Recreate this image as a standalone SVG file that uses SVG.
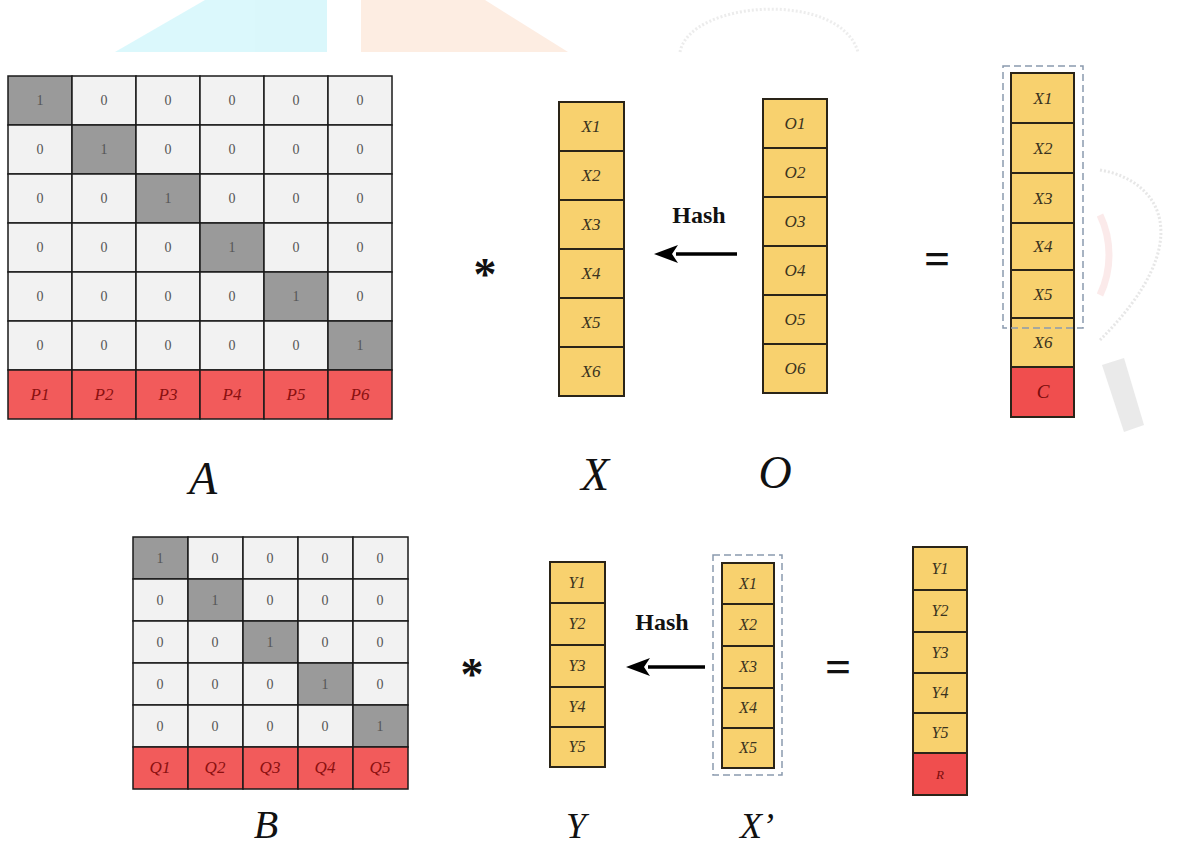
<svg xmlns="http://www.w3.org/2000/svg" width="1190" height="848" viewBox="0 0 1190 848">
<style>
.bg{fill:#ffffff}
.cl{fill:#f2f2f2;stroke:#1a1a1a;stroke-width:1.5}
.cd{fill:#9a9a9a;stroke:#1a1a1a;stroke-width:1.5}
.cr{fill:#f25b5b;stroke:#1a1a1a;stroke-width:1.5}
.cy{fill:#f8d16e;stroke:#2a2418;stroke-width:2}
.cyr{fill:#f04e4e;stroke:#2a2418;stroke-width:2}
.n{font-family:"Liberation Serif","Times New Roman",serif;font-size:14px;fill:#555;text-anchor:middle}
.p{font-family:"Liberation Serif","Times New Roman",serif;font-style:italic;font-size:17px;fill:#8a1010;text-anchor:middle}
.v{font-family:"Liberation Serif","Times New Roman",serif;font-style:italic;font-size:17px;fill:#3a3320;text-anchor:middle}
.vs{font-family:"Liberation Serif","Times New Roman",serif;font-style:italic;font-size:16px;fill:#3a3320;text-anchor:middle}
.big{font-family:"Liberation Serif","Times New Roman",serif;font-style:italic;font-size:46px;fill:#111;text-anchor:middle}
.hash{font-family:"Liberation Serif","Times New Roman",serif;font-weight:bold;font-size:24px;fill:#111;text-anchor:middle}
.op{font-family:"Liberation Serif","Times New Roman",serif;font-weight:bold;font-size:46px;fill:#111;text-anchor:middle}
.dash{fill:none;stroke:#8a9aae;stroke-width:1.5;stroke-dasharray:7 4}
.conn{stroke:#000;stroke-width:3.5;fill:none}
</style>
<defs>
<marker id="ah" markerUnits="userSpaceOnUse" markerWidth="24" markerHeight="18" refX="2" refY="9" orient="auto">
<path d="M0,9 L24,0 L18,9 L24,18 Z" fill="#000" transform="rotate(180 12 9)"/>
</marker>
</defs>
<rect class="bg" x="0" y="0" width="1190" height="848"/>
<g id="watermark" opacity="0.8">
<polygon points="115,52 205,0 327,0 327,52" fill="#d2f6fb"/>
<polygon points="361,0 485,0 568,52 361,52" fill="#fde9dc"/>
<path d="M680,52 C690,0 840,-10 858,52" fill="none" stroke="#e8e8e8" stroke-width="3" stroke-dasharray="2 2"/>
<path d="M1100,170 C1160,180 1200,240 1100,340" fill="none" stroke="#e2e2e2" stroke-width="3" stroke-dasharray="2 2"/>
<path d="M1100,215 C1112,240 1112,270 1100,295" fill="none" stroke="#fbe6e6" stroke-width="7"/>
<polygon points="1102,365 1124,358 1144,425 1124,432" fill="#e6e6e6"/>
</g>
<g id="matrixA">
<rect class="cd" x="8" y="76" width="64" height="49"/><rect class="cl" x="72" y="76" width="64" height="49"/><rect class="cl" x="136" y="76" width="64" height="49"/><rect class="cl" x="200" y="76" width="64" height="49"/><rect class="cl" x="264" y="76" width="64" height="49"/><rect class="cl" x="328" y="76" width="64" height="49"/>
<rect class="cl" x="8" y="125" width="64" height="49"/><rect class="cd" x="72" y="125" width="64" height="49"/><rect class="cl" x="136" y="125" width="64" height="49"/><rect class="cl" x="200" y="125" width="64" height="49"/><rect class="cl" x="264" y="125" width="64" height="49"/><rect class="cl" x="328" y="125" width="64" height="49"/>
<rect class="cl" x="8" y="174" width="64" height="49"/><rect class="cl" x="72" y="174" width="64" height="49"/><rect class="cd" x="136" y="174" width="64" height="49"/><rect class="cl" x="200" y="174" width="64" height="49"/><rect class="cl" x="264" y="174" width="64" height="49"/><rect class="cl" x="328" y="174" width="64" height="49"/>
<rect class="cl" x="8" y="223" width="64" height="49"/><rect class="cl" x="72" y="223" width="64" height="49"/><rect class="cl" x="136" y="223" width="64" height="49"/><rect class="cd" x="200" y="223" width="64" height="49"/><rect class="cl" x="264" y="223" width="64" height="49"/><rect class="cl" x="328" y="223" width="64" height="49"/>
<rect class="cl" x="8" y="272" width="64" height="49"/><rect class="cl" x="72" y="272" width="64" height="49"/><rect class="cl" x="136" y="272" width="64" height="49"/><rect class="cl" x="200" y="272" width="64" height="49"/><rect class="cd" x="264" y="272" width="64" height="49"/><rect class="cl" x="328" y="272" width="64" height="49"/>
<rect class="cl" x="8" y="321" width="64" height="49"/><rect class="cl" x="72" y="321" width="64" height="49"/><rect class="cl" x="136" y="321" width="64" height="49"/><rect class="cl" x="200" y="321" width="64" height="49"/><rect class="cl" x="264" y="321" width="64" height="49"/><rect class="cd" x="328" y="321" width="64" height="49"/>
<rect class="cr" x="8" y="370" width="64" height="49"/><rect class="cr" x="72" y="370" width="64" height="49"/><rect class="cr" x="136" y="370" width="64" height="49"/><rect class="cr" x="200" y="370" width="64" height="49"/><rect class="cr" x="264" y="370" width="64" height="49"/><rect class="cr" x="328" y="370" width="64" height="49"/>
<text class="n" x="40" y="105">1</text><text class="n" x="104" y="105">0</text><text class="n" x="168" y="105">0</text><text class="n" x="232" y="105">0</text><text class="n" x="296" y="105">0</text><text class="n" x="360" y="105">0</text>
<text class="n" x="40" y="154">0</text><text class="n" x="104" y="154">1</text><text class="n" x="168" y="154">0</text><text class="n" x="232" y="154">0</text><text class="n" x="296" y="154">0</text><text class="n" x="360" y="154">0</text>
<text class="n" x="40" y="203">0</text><text class="n" x="104" y="203">0</text><text class="n" x="168" y="203">1</text><text class="n" x="232" y="203">0</text><text class="n" x="296" y="203">0</text><text class="n" x="360" y="203">0</text>
<text class="n" x="40" y="252">0</text><text class="n" x="104" y="252">0</text><text class="n" x="168" y="252">0</text><text class="n" x="232" y="252">1</text><text class="n" x="296" y="252">0</text><text class="n" x="360" y="252">0</text>
<text class="n" x="40" y="301">0</text><text class="n" x="104" y="301">0</text><text class="n" x="168" y="301">0</text><text class="n" x="232" y="301">0</text><text class="n" x="296" y="301">1</text><text class="n" x="360" y="301">0</text>
<text class="n" x="40" y="350">0</text><text class="n" x="104" y="350">0</text><text class="n" x="168" y="350">0</text><text class="n" x="232" y="350">0</text><text class="n" x="296" y="350">0</text><text class="n" x="360" y="350">1</text>
<text class="p" x="40" y="400">P1</text><text class="p" x="104" y="400">P2</text><text class="p" x="168" y="400">P3</text><text class="p" x="232" y="400">P4</text><text class="p" x="296" y="400">P5</text><text class="p" x="360" y="400">P6</text>
</g>
<g id="labelA"><text class="big" x="203" y="494">A</text></g>
<g id="opStar1"><text class="op" x="485" y="290">*</text></g>
<g id="vecX">
<rect class="cy" x="559" y="102" width="65" height="49"/><rect class="cy" x="559" y="151" width="65" height="49"/><rect class="cy" x="559" y="200" width="65" height="49"/><rect class="cy" x="559" y="249" width="65" height="49"/><rect class="cy" x="559" y="298" width="65" height="49"/><rect class="cy" x="559" y="347" width="65" height="49"/>
<text class="v" x="591" y="132">X1</text><text class="v" x="591" y="181">X2</text><text class="v" x="591" y="230">X3</text><text class="v" x="591" y="279">X4</text><text class="v" x="591" y="328">X5</text><text class="v" x="591" y="377">X6</text>
</g>
<g id="labelX"><text class="big" x="595" y="490">X</text></g>
<g id="hash1"><text class="hash" x="699" y="223">Hash</text></g>
<g id="vecO">
<rect class="cy" x="763" y="99" width="64" height="49"/><rect class="cy" x="763" y="148" width="64" height="49"/><rect class="cy" x="763" y="197" width="64" height="49"/><rect class="cy" x="763" y="246" width="64" height="49"/><rect class="cy" x="763" y="295" width="64" height="49"/><rect class="cy" x="763" y="344" width="64" height="49"/>
<text class="v" x="795" y="129">O1</text><text class="v" x="795" y="178">O2</text><text class="v" x="795" y="227">O3</text><text class="v" x="795" y="276">O4</text><text class="v" x="795" y="325">O5</text><text class="v" x="795" y="374">O6</text>
</g>
<g id="labelO"><text class="big" x="775" y="488">O</text></g>
<g id="opEq1"><text class="op" x="937" y="274">=</text></g>
<g id="vecC">
<rect class="cy" x="1011" y="73" width="63" height="50"/><rect class="cy" x="1011" y="123" width="63" height="50"/><rect class="cy" x="1011" y="173" width="63" height="50"/><rect class="cy" x="1011" y="223" width="63" height="47"/><rect class="cy" x="1011" y="270" width="63" height="48"/><rect class="cy" x="1011" y="318" width="63" height="49"/><rect class="cyr" x="1011" y="367" width="63" height="50"/>
<text class="v" x="1043" y="104">X1</text><text class="v" x="1043" y="154">X2</text><text class="v" x="1043" y="204">X3</text><text class="v" x="1043" y="252">X4</text><text class="v" x="1043" y="300">X5</text><text class="v" x="1043" y="348">X6</text><text class="v" x="1043" y="398" style="fill:#7a0c0c;font-size:19px">C</text>
<rect class="dash" x="1003" y="66" width="80" height="262"/>
</g>
<g id="matrixB">
<rect class="cd" x="133" y="537" width="55" height="42"/><rect class="cl" x="188" y="537" width="55" height="42"/><rect class="cl" x="243" y="537" width="55" height="42"/><rect class="cl" x="298" y="537" width="55" height="42"/><rect class="cl" x="353" y="537" width="55" height="42"/>
<rect class="cl" x="133" y="579" width="55" height="42"/><rect class="cd" x="188" y="579" width="55" height="42"/><rect class="cl" x="243" y="579" width="55" height="42"/><rect class="cl" x="298" y="579" width="55" height="42"/><rect class="cl" x="353" y="579" width="55" height="42"/>
<rect class="cl" x="133" y="621" width="55" height="42"/><rect class="cl" x="188" y="621" width="55" height="42"/><rect class="cd" x="243" y="621" width="55" height="42"/><rect class="cl" x="298" y="621" width="55" height="42"/><rect class="cl" x="353" y="621" width="55" height="42"/>
<rect class="cl" x="133" y="663" width="55" height="42"/><rect class="cl" x="188" y="663" width="55" height="42"/><rect class="cl" x="243" y="663" width="55" height="42"/><rect class="cd" x="298" y="663" width="55" height="42"/><rect class="cl" x="353" y="663" width="55" height="42"/>
<rect class="cl" x="133" y="705" width="55" height="42"/><rect class="cl" x="188" y="705" width="55" height="42"/><rect class="cl" x="243" y="705" width="55" height="42"/><rect class="cl" x="298" y="705" width="55" height="42"/><rect class="cd" x="353" y="705" width="55" height="42"/>
<rect class="cr" x="133" y="747" width="55" height="42"/><rect class="cr" x="188" y="747" width="55" height="42"/><rect class="cr" x="243" y="747" width="55" height="42"/><rect class="cr" x="298" y="747" width="55" height="42"/><rect class="cr" x="353" y="747" width="55" height="42"/>
<text class="n" x="160" y="563">1</text><text class="n" x="215" y="563">0</text><text class="n" x="270" y="563">0</text><text class="n" x="325" y="563">0</text><text class="n" x="380" y="563">0</text>
<text class="n" x="160" y="605">0</text><text class="n" x="215" y="605">1</text><text class="n" x="270" y="605">0</text><text class="n" x="325" y="605">0</text><text class="n" x="380" y="605">0</text>
<text class="n" x="160" y="647">0</text><text class="n" x="215" y="647">0</text><text class="n" x="270" y="647">1</text><text class="n" x="325" y="647">0</text><text class="n" x="380" y="647">0</text>
<text class="n" x="160" y="689">0</text><text class="n" x="215" y="689">0</text><text class="n" x="270" y="689">0</text><text class="n" x="325" y="689">1</text><text class="n" x="380" y="689">0</text>
<text class="n" x="160" y="731">0</text><text class="n" x="215" y="731">0</text><text class="n" x="270" y="731">0</text><text class="n" x="325" y="731">0</text><text class="n" x="380" y="731">1</text>
<text class="p" x="160" y="773">Q1</text><text class="p" x="215" y="773">Q2</text><text class="p" x="270" y="773">Q3</text><text class="p" x="325" y="773">Q4</text><text class="p" x="380" y="773">Q5</text>
</g>
<g id="labelB"><text class="big" x="266" y="838" style="font-size:40px">B</text></g>
<g id="opStar2"><text class="op" x="472" y="690">*</text></g>
<g id="vecY">
<rect class="cy" x="550" y="562" width="55" height="41"/><rect class="cy" x="550" y="603" width="55" height="42"/><rect class="cy" x="550" y="645" width="55" height="42"/><rect class="cy" x="550" y="687" width="55" height="40"/><rect class="cy" x="550" y="727" width="55" height="40"/>
<text class="vs" x="577" y="588">Y1</text><text class="vs" x="577" y="629">Y2</text><text class="vs" x="577" y="671">Y3</text><text class="vs" x="577" y="712">Y4</text><text class="vs" x="577" y="752">Y5</text>
</g>
<g id="labelY"><text class="big" x="576" y="838" style="font-size:36px">Y</text></g>
<g id="hash2"><text class="hash" x="662" y="630">Hash</text></g>
<g id="vecXp">
<rect class="cy" x="722" y="563" width="52" height="41"/><rect class="cy" x="722" y="604" width="52" height="42"/><rect class="cy" x="722" y="646" width="52" height="42"/><rect class="cy" x="722" y="688" width="52" height="40"/><rect class="cy" x="722" y="728" width="52" height="40"/>
<text class="vs" x="748" y="589">X1</text><text class="vs" x="748" y="630">X2</text><text class="vs" x="748" y="672">X3</text><text class="vs" x="748" y="713">X4</text><text class="vs" x="748" y="753">X5</text>
<rect class="dash" x="713" y="555" width="69" height="220"/>
</g>
<g id="labelXp"><text class="big" x="757" y="838" style="font-size:36px">X’</text></g>
<g id="opEq2"><text class="op" x="838" y="682">=</text></g>
<g id="vecR">
<rect class="cy" x="913" y="547" width="54" height="43"/><rect class="cy" x="913" y="590" width="54" height="42"/><rect class="cy" x="913" y="632" width="54" height="41"/><rect class="cy" x="913" y="673" width="54" height="40"/><rect class="cy" x="913" y="713" width="54" height="40"/><rect class="cyr" x="913" y="753" width="54" height="42"/>
<text class="vs" x="940" y="574">Y1</text><text class="vs" x="940" y="616">Y2</text><text class="vs" x="940" y="658">Y3</text><text class="vs" x="940" y="698">Y4</text><text class="vs" x="940" y="738">Y5</text><text class="vs" x="940" y="779" style="fill:#7a0c0c;font-size:13px">R</text>
</g>
<g id="connectors">
<line class="conn" x1="737" y1="254" x2="676" y2="254" marker-end="url(#ah)"/>
<line class="conn" x1="705" y1="667" x2="648" y2="667" marker-end="url(#ah)"/>
</g>
</svg>
